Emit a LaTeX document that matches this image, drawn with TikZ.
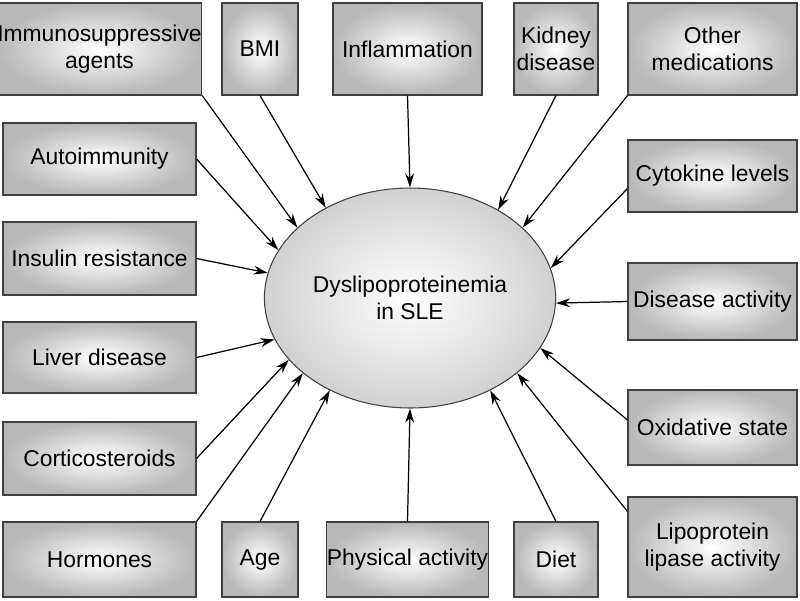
\documentclass[tikz,border=0pt]{standalone}
\usepackage{fontspec}
\setmainfont{Liberation Sans}
\usetikzlibrary{shapes.geometric,arrows.meta}

\begin{document}
\begin{tikzpicture}[x=0.02cm,y=-0.02cm,
    factor/.style 2 args={draw=black!75,line width=0.6pt,inner sep=0pt,align=center,
      inner color=white,outer color=black!28,
      minimum width=#1*0.02cm,minimum height=#2*0.02cm,
      font=\fontsize{13}{15.5}\selectfont},
    link/.style={-{Stealth[length=8pt,width=5pt]},line width=0.7pt}]
    \useasboundingbox (0,0) rectangle (800,600);
    % centre
    \node [ellipse,draw=black!75,line width=0.6pt,inner color=white,outer color=black!18,
      minimum width=5.2cm,minimum height=4.4cm,align=center,
      font=\fontsize{13}{15.5}\selectfont] (dys) at (410,298) {Dyslipoproteinemia\\in SLE};
    % top row
    \node [factor={193}{92}] (immuno) at (99.5,49) {Immunosuppressive\\agents};
    \node [factor={76}{92}] (bmi) at (260,49) {BMI};
    \node [factor={149}{92}] (inflam) at (407.5,49) {Inflammation};
    \node [factor={84}{92}] (kidney) at (556,49) {Kidney\\disease};
    \node [factor={169}{92}] (othmed) at (712.5,49) {Other\\medications};
    % left column
    \node [factor={193}{72}] (autoim) at (99.5,159) {Autoimmunity};
    \node [factor={193}{73}] (insulin) at (99.5,258.5) {Insulin resistance};
    \node [factor={193}{71}] (liver) at (99.5,357.5) {Liver disease};
    \node [factor={193}{73}] (cortico) at (99.5,458.5) {Corticosteroids};
    \node [factor={193}{75}] (hormon) at (99.5,559.5) {Hormones};
    % bottom row
    \node [factor={76}{75}] (age) at (260,559.5) {Age};
    \node [factor={149}{75}] (phys) at (407.5,559.5) {Physical activity};
    \node [factor={84}{75}] (diet) at (556,559.5) {Diet};
    \node [factor={169}{100}] (lipase) at (712.5,547) {Lipoprotein\\lipase activity};
    % right column
    \node [factor={169}{72}] (cytok) at (712.5,176) {Cytokine levels};
    \node [factor={169}{77}] (disact) at (712.5,301.5) {Disease activity};
    \node [factor={169}{75}] (oxid) at (712.5,427.5) {Oxidative state};
    % arrows
    \draw [link] (immuno.south east) -- (dys.148);
    \draw [link] (bmi.south) -- (dys.133);
    \draw [link] (inflam.south) -- (dys.90);
    \draw [link] (kidney.south) -- (dys.45);
    \draw [link] (othmed.south west) -- (dys.32);
    \draw [link] (autoim.east) -- (dys.160);
    \draw [link] (insulin.east) -- (dys.170);
    \draw [link] (liver.east) -- (dys.197);
    \draw [link] (cortico.east) -- (dys.207);
    \draw [link] (hormon.north east) -- (dys.215);
    \draw [link] (age.north) -- (dys.229);
    \draw [link] (phys.north) -- (dys.270);
    \draw [link] (diet.north) -- (dys.311);
    \draw [link] ([yshift=-0.3cm]lipase.north west) -- (dys.325);
    \draw [link] ([yshift=0.15cm]oxid.west) -- (dys.339);
    \draw [link] (disact.west) -- (dys.-2);
    \draw [link] ([yshift=-0.25cm]cytok.west) -- (dys.12);
\end{tikzpicture}
\end{document}
